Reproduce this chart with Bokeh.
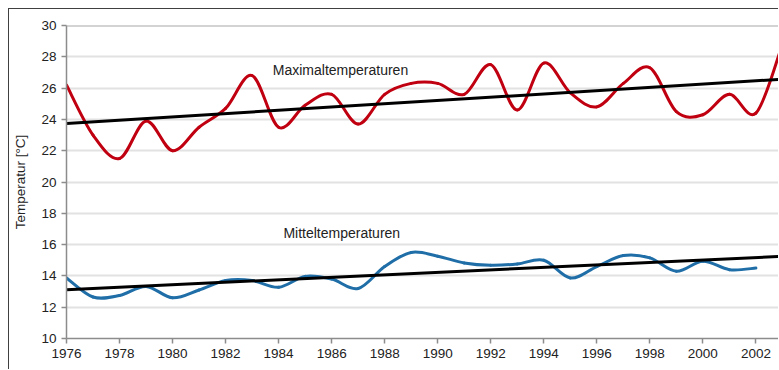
import numpy as np
from bokeh.plotting import figure
from bokeh.models import Range1d, FixedTicker, Span, Label
from bokeh.embed import file_html
from bokeh.resources import INLINE

# ---- data ----
years_max = list(range(1976, 2004))
t_max = [26.2, 23.0, 21.5, 23.9, 22.0, 23.5, 24.7, 26.8, 23.5, 24.9,
         25.6, 23.7, 25.6, 26.3, 26.3, 25.6, 27.5, 24.6, 27.6, 25.7,
         24.8, 26.3, 27.3, 24.5, 24.3, 25.6, 24.4, 28.8]

years_mean = list(range(1976, 2003))
t_mean = [13.87, 12.65, 12.75, 13.33, 12.6, 13.1, 13.7, 13.7, 13.27, 13.97,
          13.8, 13.2, 14.6, 15.5, 15.26, 14.83, 14.68, 14.76, 15.0, 13.87,
          14.6, 15.3, 15.15, 14.3, 14.94, 14.4, 14.5]

trend_years = [1976, 2003]
trend_max = [23.74, 26.57]
trend_mean = [13.12, 15.25]

x_ticks = list(range(1976, 2003, 2))
y_ticks = list(range(10, 31, 2))

label_max = "Maximaltemperaturen"
label_mean = "Mitteltemperaturen"
y_title = "Temperatur [°C]"

FONT = "Liberation Sans"


def bezier_segments(x, y):
    """Smoothed-line (Catmull-Rom) control points for each segment."""
    x = np.asarray(x, float)
    y = np.asarray(y, float)
    n = len(x)
    xp = np.concatenate([[x[0]], x, [x[-1]]])
    yp = np.concatenate([[y[0]], y, [y[-1]]])
    return dict(
        x0=x[:-1], y0=y[:-1], x1=x[1:], y1=y[1:],
        cx0=x[:-1] + (xp[2:n + 1] - xp[0:n - 1]) / 6.0,
        cy0=y[:-1] + (yp[2:n + 1] - yp[0:n - 1]) / 6.0,
        cx1=x[1:] - (xp[3:n + 2] - xp[1:n]) / 6.0,
        cy1=y[1:] - (yp[3:n + 2] - yp[1:n]) / 6.0,
    )


p = figure(width=770, height=361,
           x_range=Range1d(1976, 2002.89), y_range=Range1d(10, 30),
           output_backend="svg", toolbar_location=None,
           min_border_left=57, min_border_right=0,
           min_border_top=16, min_border_bottom=32)
p.styles = {"margin-left": "8px", "margin-top": "8px",
            "border-left": "1px solid #404040", "border-top": "1px solid #404040"}

p.outline_line_color = None
p.background_fill_color = "white"

# axes
for ax in (p.xaxis[0], p.yaxis[0]):
    ax.axis_line_color = "#8c8c8c"
    ax.axis_line_width = 1.5
    ax.major_tick_line_color = "#8c8c8c"
    ax.major_tick_line_width = 1.5
    ax.major_tick_in = 0
    ax.major_tick_out = 5
    ax.minor_tick_line_color = None
    ax.major_label_text_font = FONT
    ax.major_label_text_font_size = "13.5px"
    ax.major_label_text_color = "#222222"

p.xaxis.ticker = FixedTicker(ticks=x_ticks)
p.yaxis.ticker = FixedTicker(ticks=y_ticks)
p.xaxis.major_label_standoff = 5
p.yaxis.major_label_standoff = 5
p.yaxis.axis_label = y_title
p.yaxis.axis_label_text_font = FONT
p.yaxis.axis_label_text_font_size = "13.5px"
p.yaxis.axis_label_text_font_style = "normal"
p.yaxis.axis_label_text_color = "#222222"
p.yaxis.axis_label_standoff = 10

p.xgrid.visible = False
p.ygrid.ticker = FixedTicker(ticks=y_ticks)
p.ygrid.grid_line_color = "#e2e2e2"
p.ygrid.grid_line_width = 2

p.add_layout(Span(location=y_ticks[-1], dimension="width",
                  line_color="#a8a8a8", line_width=2))

# smoothed series
p.bezier(line_color="#c00010", line_width=3, line_cap="round",
         **bezier_segments(years_max, t_max))
p.bezier(line_color="#1f6ea8", line_width=3, line_cap="round",
         **bezier_segments(years_mean, t_mean))

# trend lines
p.line(trend_years, trend_max, line_color="black", line_width=3)
p.line(trend_years, trend_mean, line_color="black", line_width=3)

p.add_layout(Label(x=1983.78, y=27.18, text=label_max, text_font=FONT,
                   text_font_size="14px", text_color="#222222",
                   text_baseline="middle", text_align="left"))
p.add_layout(Label(x=1984.18, y=16.75, text=label_mean, text_font=FONT,
                   text_font_size="14px", text_color="#222222",
                   text_baseline="middle", text_align="left"))

open("out.html", "w").write(file_html(p, INLINE))
